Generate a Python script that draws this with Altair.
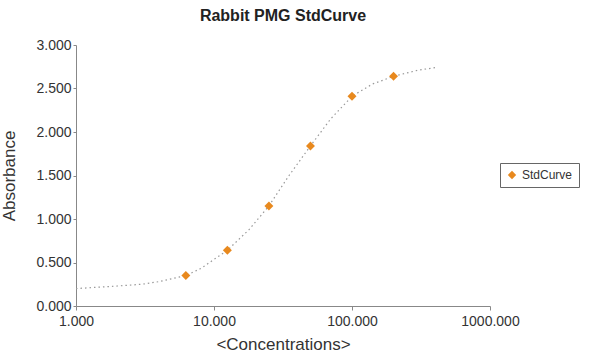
import altair as alt
import pandas as pd

conc = [6.25, 12.5, 25, 50, 100, 200]
absorb = [0.35, 0.64, 1.15, 1.84, 2.41, 2.64]

curve_x = [1, 2, 3, 4, 6.25, 8, 12.5, 18, 25, 35, 50, 70, 100, 140, 200, 300, 400]
curve_y = [0.20, 0.23, 0.25, 0.28, 0.35, 0.43, 0.64, 0.88, 1.15, 1.50, 1.84, 2.15, 2.41, 2.55, 2.64, 2.71, 2.74]

x_ticks = [1, 10, 100, 1000]
y_ticks = [0, 0.5, 1.0, 1.5, 2.0, 2.5, 3.0]

pts = pd.DataFrame({"x": conc, "y": absorb, "series": ["StdCurve"] * len(conc)})
crv = pd.DataFrame({"x": curve_x, "y": curve_y})

FONT = "Liberation Sans"

xs = alt.Scale(type="log", domain=[1, 1000])
ys = alt.Scale(domain=[0, 3])

xaxis = alt.Axis(values=x_ticks, format=".3f", title="<Concentrations>", grid=False,
                 labelFontSize=14, titleFontSize=17, titleFontWeight="normal",
                 labelColor="#333", titleColor="#333", domainColor="#888", tickColor="#888",
                 tickSize=4, labelPadding=4, titlePadding=8, labelFlush=False)
yaxis = alt.Axis(values=y_ticks, format=".3f", title="Absorbance", grid=False,
                 labelFontSize=14, titleFontSize=17, titleFontWeight="normal",
                 labelColor="#333", titleColor="#333", domainColor="#888", tickColor="#888",
                 tickSize=3, labelPadding=2, titleX=-58, labelFlush=False)

line = alt.Chart(crv).mark_line(color="#999", strokeDash=[1.5, 3], strokeWidth=1.2).encode(
    x=alt.X("x:Q", scale=xs, axis=xaxis),
    y=alt.Y("y:Q", scale=ys, axis=yaxis),
)

points = alt.Chart(pts).mark_point(shape="diamond", filled=True, size=80, opacity=1).encode(
    x=alt.X("x:Q", scale=xs),
    y=alt.Y("y:Q", scale=ys),
    color=alt.Color("series:N", scale=alt.Scale(range=["#E8891E"]),
                    legend=alt.Legend(title=None, orient="none", legendX=424, legendY=118,
                                      strokeColor="#666", padding=6, labelFontSize=12,
                                      labelColor="#333", symbolSize=70, symbolType="diamond",
                                      cornerRadius=0)),
)

chart = (line + points).properties(
    width=414, height=261,
    title=alt.TitleParams("Rabbit PMG StdCurve", fontSize=16, fontWeight="bold", font=FONT,
                          color="#222", offset=14, anchor="middle"),
    autosize=alt.AutoSizeParams(type="none"),
    padding={"left": 76, "top": 45, "right": 120, "bottom": 52},
    background="white",
).configure(font=FONT).configure_view(stroke=None)

chart.save("out.html", embed_options={"renderer": "svg", "actions": False})
